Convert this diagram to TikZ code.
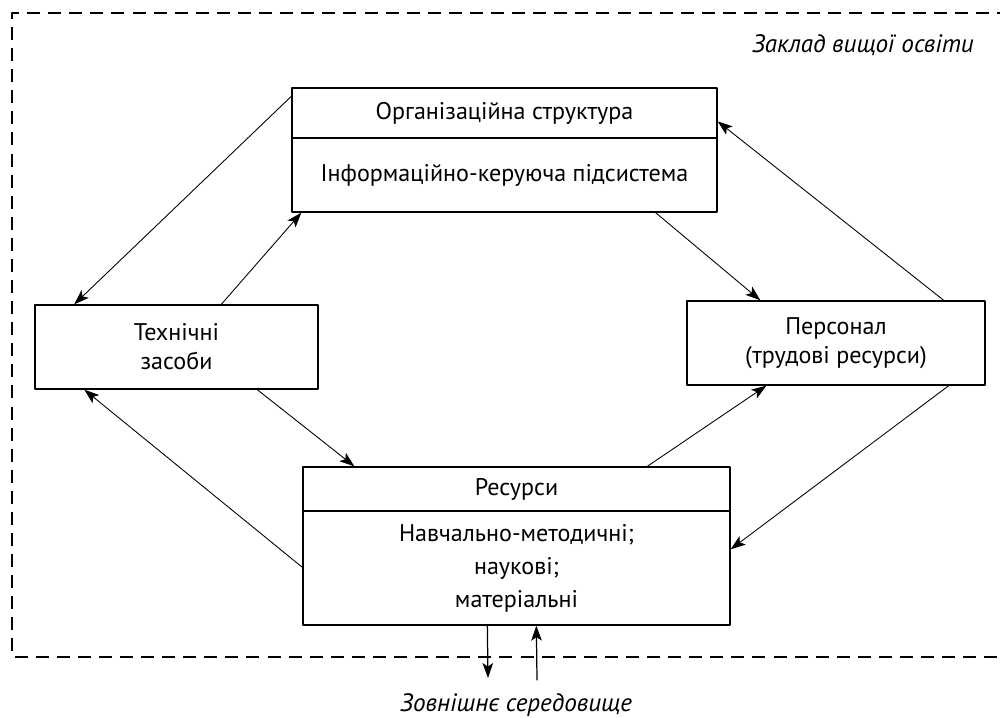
\documentclass[tikz,border=0pt]{standalone}
\usepackage{fontspec}
\setmainfont{PT Sans}
\usetikzlibrary{calc,arrows.meta}

\begin{document}
\begin{tikzpicture}[x=0.02cm,y=-0.02cm,line cap=round,line join=round,>={Stealth[length=8.5pt,width=6pt,inset=2pt]},
	box/.style={draw,line width=0.8pt,inner sep=0pt,align=center,font=\fontsize{13.7}{16.5}\selectfont},
	link/.style={->,line width=0.5pt},
	frame/.style={dash pattern=on 7.4pt off 4.6pt,line width=0.75pt,line cap=butt}]
	\useasboundingbox (0,0) rectangle (1000,717);
	\clip (0,0) rectangle (1000,717);
	\draw[frame] (1010,13) -- (12,13) -- (12,657) -- (1010,657);
	\node[anchor=east,font=\fontsize{14.3}{16}\selectfont\itshape] (hei) at (980,45) {Заклад вищої освіти};
	\node[font=\fontsize{14.3}{16}\selectfont\itshape] (env) at (516,705) {Зовнішнє середовище};
	\node[box,minimum width=8.5cm,minimum height=1.0cm] (orgstr) at (504.5,113) {Організаційна структура};
	\node[box,minimum width=8.5cm,minimum height=1.48cm] (infsys) at (504.5,175) {Інформаційно-керуюча підсистема};
	\node[box,minimum width=5.66cm,minimum height=1.68cm] (tech) at (176.5,347) {Технічні\\засоби};
	\node[box,minimum width=5.96cm,minimum height=1.68cm] (staff) at (836,343) {Персонал\\(трудові ресурси)};
	\node[box,minimum width=8.54cm,minimum height=0.88cm] (reshead) at (516.5,489) {Ресурси};
	\node[box,minimum width=8.54cm,minimum height=2.28cm,font=\fontsize{13.7}{18.8}\selectfont] (resbody) at (516.5,568) {Навчально-методичні;\\наукові;\\матеріальні};
	\coordinate (outdown) at (488,678);
	\coordinate (outup) at (537,680);
	\draw[link] ($(orgstr.north west)+(0,9)$) -- ($(tech.north west)+(40,0)$);
	\draw[link] ($(tech.north west)+(187,0)$) -- ($(infsys.south west)+(10,0)$);
	\draw[link] ($(infsys.south east)+(-62,0)$) -- ($(staff.north west)+(74,0)$);
	\draw[link] ($(staff.north east)+(-42,0)$) -- ($(orgstr.north east)+(0,34)$);
	\draw[link] ($(tech.south west)+(223,0)$) -- ($(reshead.north west)+(52,0)$);
	\draw[link] ($(resbody.north west)+(0,57)$) -- ($(tech.south west)+(50,0)$);
	\draw[link] ($(reshead.north west)+(345,0)$) -- ($(staff.south west)+(80,0)$);
	\draw[link] ($(staff.south east)+(-37,0)$) -- ($(resbody.north east)+(0,39)$);
	\draw[link,line width=0.7pt] ($(resbody.south west)+(185,0)$) -- (outdown);
	\draw[link,line width=0.7pt] (outup) -- ($(resbody.south west)+(234,0)$);
\end{tikzpicture}
\end{document}
